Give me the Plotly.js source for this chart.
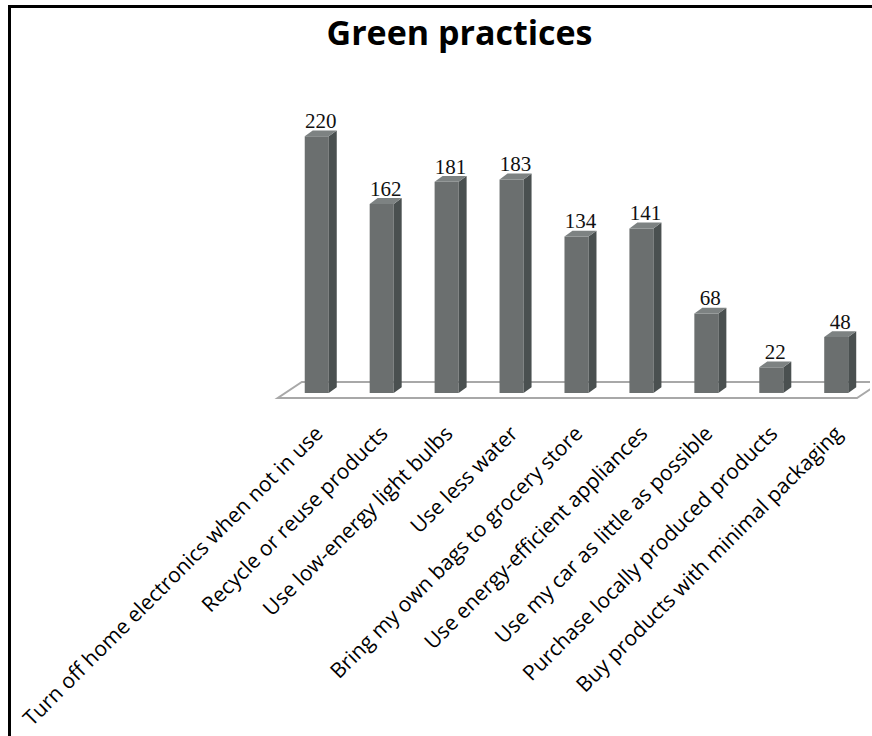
<!DOCTYPE html>
<html>
<head>
<meta charset="utf-8">
<script src="https://cdn.plot.ly/plotly-3.0.1.min.js"></script>
<style>
  html, body { margin: 0; padding: 0; background: #fff; }
  #wrap { position: relative; width: 872px; height: 736px; overflow: hidden; }
  #chart { position: absolute; left: 0; top: 0; width: 872px; height: 736px; }
  #frame { position: absolute; left: 8px; top: 5px; width: 900px; height: 800px;
           border-top: 3px solid #000; border-left: 3px solid #000; pointer-events: none; }
</style>
</head>
<body>
<div id="wrap"><div id="chart"></div><div id="frame"></div></div>
<script>
const categories = [
  "Turn off home electronics when not in use",
  "Recycle or reuse products",
  "Use low-energy light bulbs",
  "Use less water",
  "Bring my own bags to grocery store",
  "Use energy-efficient appliances",
  "Use my car as little as possible",
  "Purchase locally produced products",
  "Buy products with minimal packaging"
];
const values = [220, 162, 181, 183, 134, 141, 68, 22, 48];

const idx = categories.map((_, i) => i);
const W = 0.37;   // front face width (category units)
const DX = 0.123; // depth offset x
const DY = 5;     // depth offset y (data units)

// side and top faces
const sx = [], sy = [], tx = [], ty = [];
values.forEach((v, i) => {
  const r = i + W / 2, l = i - W / 2;
  sx.push(r, r + DX, r + DX, r, r, null);
  sy.push(0, DY, v + DY, v, 0, null);
  tx.push(l, l + DX, r + DX, r, l, null);
  ty.push(v, v + DY, v + DY, v, v, null);
});

const traces = [
  {
    type: 'bar', x: idx, y: values, width: W,
    marker: { color: '#6b6f6f', line: { width: 0 } },
    hoverinfo: 'skip', showlegend: false
  },
  {
    type: 'scatter', mode: 'lines', x: sx, y: sy, fill: 'toself',
    fillcolor: '#4a5050', line: { width: 0, color: '#4a5050' },
    hoverinfo: 'skip', showlegend: false
  },
  {
    type: 'scatter', mode: 'lines', x: tx, y: ty, fill: 'toself',
    fillcolor: '#7d8282', line: { width: 0, color: '#7d8282' },
    hoverinfo: 'skip', showlegend: false
  },
  {
    type: 'scatter', mode: 'text',
    x: idx.map(i => i + DX / 2), y: values.map(v => v + DY / 2),
    text: values.map(String), textposition: 'top center',
    textfont: { family: 'Liberation Serif, serif', size: 21, color: '#111' },
    cliponaxis: false, hoverinfo: 'skip', showlegend: false
  }
];

const layout = {
  width: 872, height: 736,
  margin: { l: 270, r: 2, t: 70, b: 326 },
  paper_bgcolor: '#fff', plot_bgcolor: 'rgba(0,0,0,0)',
  title: {
    text: 'Green practices', x: 0.527, xanchor: 'center', y: 0.955, yanchor: 'middle',
    font: { family: 'Open Sans', size: 34, weight: 700, color: '#000' }
  },
  xaxis: {
    range: [-0.72, 8.52], tickvals: idx, ticktext: categories, tickangle: -45,
    showgrid: false, zeroline: false, showline: false, ticks: '',
    ticklabelstandoff: 6,
    tickfont: { family: 'Open Sans', size: 21, color: '#000' }
  },
  yaxis: { range: [-14.6, 276.8], visible: false, showgrid: false, zeroline: false },
  shapes: [{
    type: 'path', xref: 'x', yref: 'y', layer: 'below',
    path: 'M -0.6,-4.3 L 8.32,-4.3 L 8.69,9.4 L -0.23,9.4 Z',
    fillcolor: '#ffffff', line: { color: '#a8a8a8', width: 2 }
  }],
  showlegend: false
};

Plotly.newPlot('chart', traces, layout, { displayModeBar: false, staticPlot: true });
</script>
</body>
</html>
